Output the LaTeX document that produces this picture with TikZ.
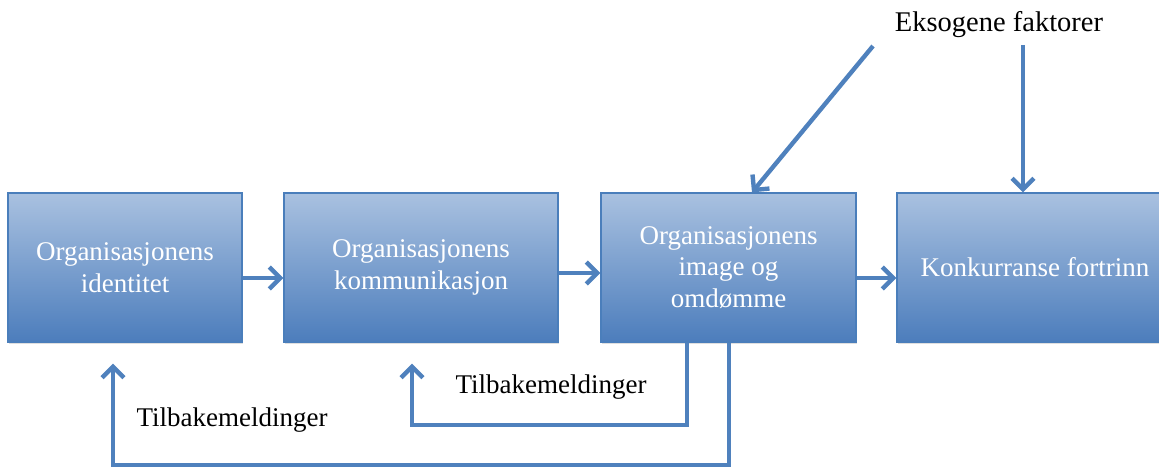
\documentclass[tikz,border=0pt]{standalone}
\usepackage{fontspec}
\setmainfont{Liberation Serif}
\usetikzlibrary{arrows.meta,shadows}

\definecolor{boxtop}{HTML}{A9C1E0}
\definecolor{boxbot}{HTML}{4C7DBC}
\definecolor{boxline}{HTML}{4A7EBB}
\definecolor{flowblue}{HTML}{4F81BD}

\tikzset{
  box/.style={draw=boxline, line width=1.2pt, top color=boxtop, bottom color=boxbot,
    minimum height=149pt, inner sep=0pt, text=white, align=center,
    font=\fontsize{27}{31.5}\selectfont,
    drop shadow={opacity=0.25, shadow xshift=1pt, shadow yshift=-2pt}},
  flow/.style={draw=flowblue, line width=4.4pt,
    -{Straight Barb[length=11pt, width=22pt]}},
  label/.style={font=\fontsize{27}{31}\selectfont, text=black, inner sep=0pt}
}

\begin{document}
\begin{tikzpicture}[x=1pt, y=-1pt]
  \useasboundingbox (0,0) rectangle (1159,468);
  \clip (0,0) rectangle (1159,468);

  % main chain of boxes
  \node[box, minimum width=234pt] (ident) at (125,267.5) {Organisasjonens\\identitet};
  \node[box, minimum width=274pt] (komm)  at (421,267.5) {Organisasjonens\\kommunikasjon};
  \node[box, minimum width=255pt] (image) at (728.5,267.5) {Organisasjonens\\image og\\omdømme};
  \node[box, minimum width=276pt] (fortrinn) at (1035,267.5) {Konkurranse fortrinn};

  % external factors
  \node[label, font=\fontsize{28.5}{32}\selectfont] (exo) at (999,25) {Eksogene faktorer};
  \coordinate (exoA) at (873,46);
  \coordinate (exoB) at (1023,45);

  % forward arrows
  \draw[flow] ([yshift=-10.5pt]ident.east) -- ([yshift=-10.5pt]komm.west);
  \draw[flow] ([yshift=-5.5pt]komm.east) -- ([yshift=-5.5pt]image.west);
  \draw[flow] ([yshift=-10.5pt]image.east) -- ([yshift=-10.5pt]fortrinn.west);

  % arrows from the external factors
  \draw[flow] (exoA) -- ([xshift=23.5pt]image.north);
  \draw[flow] (exoB) -- ([xshift=-12pt]fortrinn.north);

  % feedback loops
  \coordinate (fb1) at (412,425);
  \coordinate (fb2) at (113,465);
  \draw[flow] ([xshift=-41.5pt]image.south) |- (fb1) -- ([xshift=-9pt,yshift=-21pt]komm.south);
  \draw[flow] ([xshift=0.5pt]image.south) |- (fb2) -- ([xshift=-12pt,yshift=-21pt]ident.south);

  \node[label] (fbText1) at (551,387) {Tilbakemeldinger};
  \node[label] (fbText2) at (232,420) {Tilbakemeldinger};
\end{tikzpicture}
\end{document}
